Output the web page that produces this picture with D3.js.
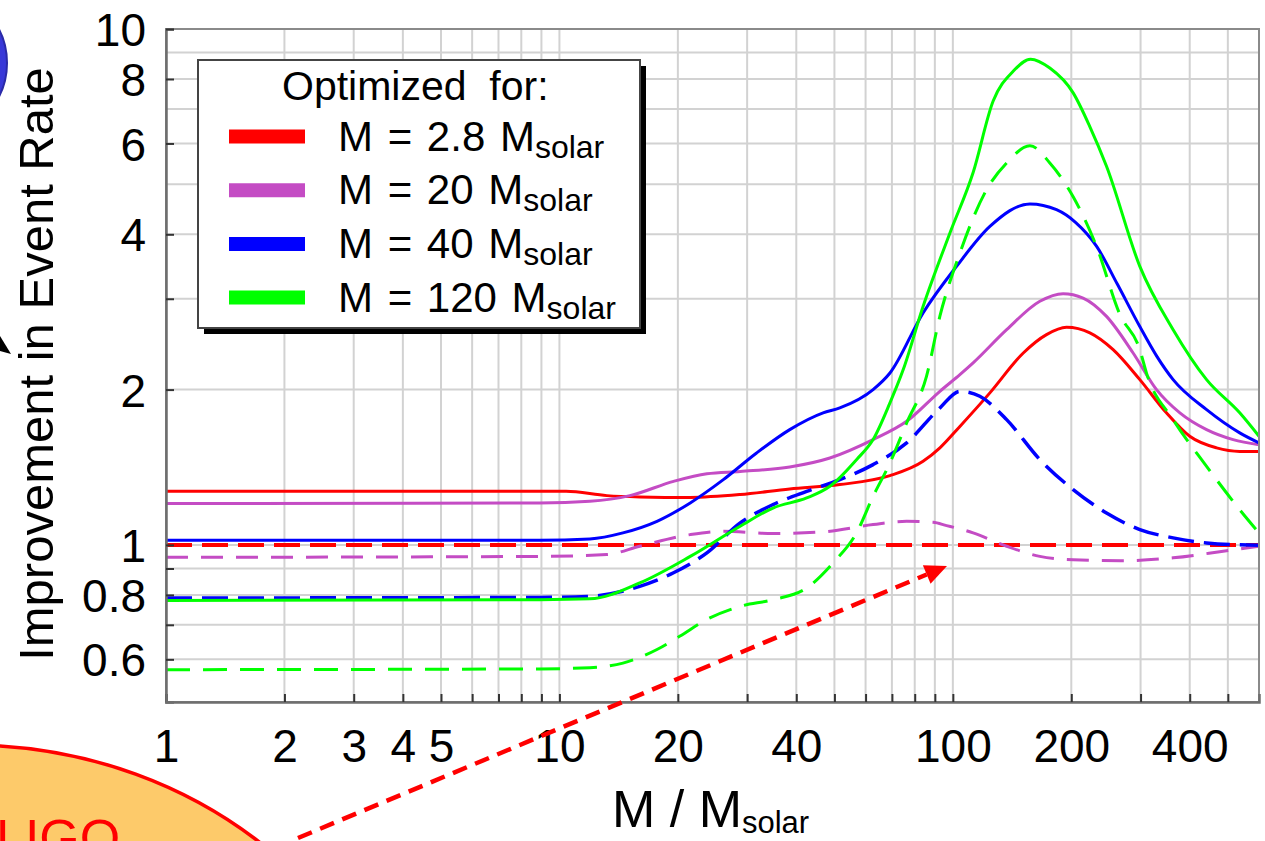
<!DOCTYPE html>
<html>
<head>
<meta charset="utf-8">
<script src="https://cdn.jsdelivr.net/npm/d3@7"></script>
<style>
  body { margin: 0; background: #ffffff; }
  svg { display: block; font-family: Arial, "Liberation Sans", Helvetica, sans-serif; }
</style>
</head>
<body>
<svg id="chart" width="1265" height="841"></svg>
<script>
// ---- Axis ticks and labels ----
const massLabelTicks = [1, 2, 3, 4, 5, 10, 20, 40, 100, 200, 400];
const massGridValues = [1, 2, 3, 4, 5, 6, 7, 8, 9, 10, 20, 30, 40, 50, 60, 70, 80, 90, 100, 200, 300, 400, 500];
const rateLabelTicks = [0.6, 0.8, 1, 2, 4, 6, 8, 10];
const rateMarkTicks = [0.6, 0.7, 0.8, 0.9, 1, 2, 3, 4, 6, 8, 10];
const rateGridValues = [0.6, 0.7, 0.8, 0.9, 1, 2, 3, 4, 5, 6, 7, 8, 9, 10];

// ---- Legend ----
const legendTitle = "Optimized  for:";
const optimizedMasses = ["2.8", "20", "40", "120"];
const seriesColors = ["#ff0000", "#c44cc4", "#0000ff", "#00ff00"];

// ---- Improvement curves: [M / Msolar, improvement factor] ----
const opt28Solid = [[1,1.27],[8.9,1.27],[10.4,1.27],[13.2,1.246],[16,1.239],[21.5,1.236],[28.8,1.252],[38.5,1.284],[51.6,1.309],[69.2,1.362],[84,1.452],[92.7,1.542],[104.2,1.697],[124.2,1.971],[151,2.355],[173,2.556],[194.5,2.641],[223,2.576],[255.5,2.39],[298.7,2.091],[349,1.803],[400,1.624],[468,1.542],[536,1.518],[600,1.518]];
const opt28Dashed = [[1,1.0],[600,1.0]];

const opt20Solid = [[1,1.203],[8.9,1.206],[11.95,1.215],[15.1,1.246],[19.5,1.328],[23.7,1.374],[28.8,1.388],[38.5,1.416],[48.7,1.474],[62.7,1.6],[76.3,1.736],[92.7,1.985],[104.2,2.138],[112.6,2.253],[137,2.613],[166.4,2.966],[190.6,3.069],[214.3,3.01],[245.8,2.773],[287.2,2.355],[329.4,2.0],[377.6,1.803],[441.5,1.673],[515.7,1.6],[600,1.564]];
const opt20Dashed = [[1,0.946],[8.9,0.95],[13.2,0.958],[16,0.994],[21.5,1.047],[26.1,1.063],[34.9,1.052],[46.8,1.06],[62.7,1.095],[76.3,1.111],[89.1,1.106],[96.4,1.09],[104.2,1.074],[112.6,1.055],[137,0.994],[166.4,0.95],[202.2,0.936],[270.8,0.932],[363,0.944],[486.4,0.972],[600,0.994]];

const opt40Solid = [[1,1.021],[8.9,1.021],[11.95,1.027],[14.5,1.055],[17.7,1.111],[21.5,1.206],[26.1,1.338],[31.7,1.507],[38.5,1.673],[46.8,1.803],[51.6,1.843],[62.7,2.0],[69.2,2.154],[84,2.816],[102.2,3.467],[124.2,4.143],[157,4.58],[183.4,4.465],[205,4.22],[232,3.79],[262,3.2],[298.7,2.65],[330,2.32],[363,2.091],[441.5,1.829],[536,1.649],[600,1.577]];
const opt40Dashed = [[1,0.789],[8.9,0.791],[11.95,0.795],[16,0.831],[19.5,0.883],[23.7,0.965],[28.8,1.103],[34.9,1.197],[42.5,1.27],[51.6,1.338],[62.7,1.431],[76.3,1.577],[92.7,1.843],[104.2,1.985],[117.1,1.941],[137,1.749],[166.4,1.463],[202.2,1.28],[245.8,1.153],[298.7,1.071],[363,1.032],[441.5,1.009],[600,0.998]];

const opt120Solid = [[1,0.78],[8.9,0.783],[11.95,0.786],[16,0.844],[21.5,0.95],[28.8,1.087],[34.9,1.179],[42.5,1.233],[48.7,1.299],[56.9,1.463],[62.7,1.6],[69.2,1.885],[74.8,2.187],[84,2.898],[98.3,4.024],[112.6,5.27],[126.6,7.25],[142.3,8.28],[157.6,8.74],[176.4,8.4],[202.2,7.52],[222.9,6.47],[245.8,5.42],[298.7,3.467],[363,2.613],[441.5,2.091],[536,1.803],[600,1.624]];
const opt120Dashed = [[1,0.573],[8.9,0.575],[11.95,0.578],[14.5,0.59],[17.7,0.627],[20.2,0.665],[23.7,0.717],[28.8,0.76],[34.9,0.783],[42.5,0.825],[49.6,0.923],[56.9,1.055],[62.7,1.242],[69.2,1.442],[76.3,1.723],[85.7,2.122],[92.7,2.775],[104.2,3.68],[121.8,4.88],[137,5.5],[157,5.94],[176.4,5.5],[202.2,4.73],[231.8,3.79],[265.6,2.8],[298.7,2.39],[310.6,2.153],[363,1.749],[441.5,1.42],[536,1.17],[600,1.055]];

const curves = [
  { data: opt28Solid,   color: 0, dash: null,    width: 3 },
  { data: opt28Dashed,  color: 0, dash: "26,10", width: 4 },
  { data: opt20Solid,   color: 1, dash: null,    width: 3 },
  { data: opt20Dashed,  color: 1, dash: "22,13", width: 3 },
  { data: opt40Solid,   color: 2, dash: null,    width: 3 },
  { data: opt40Dashed,  color: 2, dash: "26,10", width: 3.5 },
  { data: opt120Solid,  color: 3, dash: null,    width: 3 },
  { data: opt120Dashed, color: 3, dash: "24,13", width: 3 }
];

// ---- Layout ----
const svg = d3.select("#chart");
const plot = { left: 166, right: 1259, top: 29, bottom: 702 };

const x = d3.scaleLog().domain([1, 600]).range([plot.left, plot.right]);
const y = d3.scaleLog().domain([0.496, 10]).range([plot.bottom, plot.top]);

// ---- Slide decorations behind the chart ----
svg.append("ellipse")
  .attr("cx", -30).attr("cy", 1160).attr("rx", 450).attr("ry", 415)
  .attr("fill", "#fdca6a").attr("stroke", "#ff0000").attr("stroke-width", 3.5);
svg.append("text")
  .attr("x", -4).attr("y", 856)
  .attr("font-size", 52).attr("fill", "#ff0000")
  .text("LIGO");
svg.append("circle")
  .attr("cx", -66).attr("cy", 63).attr("r", 73)
  .attr("fill", "#3838d8").attr("stroke", "#2a2aa8").attr("stroke-width", 2);
svg.append("path")
  .attr("d", "M0,336 L11,354 L0,351 Z")
  .attr("fill", "#000");

// ---- Plot background and grid ----
svg.append("rect")
  .attr("x", plot.left).attr("y", plot.top)
  .attr("width", plot.right - plot.left).attr("height", plot.bottom - plot.top)
  .attr("fill", "#ffffff");

const grid = svg.append("g").attr("stroke", "#d2d2d2").attr("stroke-width", 2);
grid.selectAll("line.v").data(massGridValues).join("line")
  .attr("class", "v")
  .attr("x1", d => x(d)).attr("x2", d => x(d))
  .attr("y1", plot.top).attr("y2", plot.bottom);
grid.selectAll("line.h").data(rateGridValues).join("line")
  .attr("class", "h")
  .attr("x1", plot.left).attr("x2", plot.right)
  .attr("y1", d => y(d)).attr("y2", d => y(d));

// ---- Curves ----
svg.append("defs").append("clipPath").attr("id", "plotClip")
  .append("rect")
  .attr("x", plot.left).attr("y", plot.top)
  .attr("width", plot.right - plot.left).attr("height", plot.bottom - plot.top);

const line = d3.line()
  .x(d => x(d[0]))
  .y(d => y(d[1]))
  .curve(d3.curveMonotoneX);

svg.append("g").attr("clip-path", "url(#plotClip)")
  .selectAll("path").data(curves).join("path")
  .attr("d", c => line(c.data))
  .attr("fill", "none")
  .attr("stroke", c => seriesColors[c.color])
  .attr("stroke-width", c => c.width)
  .attr("stroke-dasharray", c => c.dash)
  .attr("stroke-linejoin", "round");

// ---- Frame and axes ----
svg.append("rect")
  .attr("x", plot.left).attr("y", plot.top)
  .attr("width", plot.right - plot.left).attr("height", plot.bottom - plot.top)
  .attr("fill", "none").attr("stroke", "#8a8a8a").attr("stroke-width", 2);

const xAxis = d3.axisBottom(x)
  .tickValues(massGridValues)
  .tickSize(-8)
  .tickFormat(d => massLabelTicks.includes(d) ? String(d) : "");
const gx = svg.append("g").attr("transform", `translate(0,${plot.bottom})`).call(xAxis);
gx.select(".domain").attr("stroke", "#6e6e6e").attr("stroke-width", 2.5);
gx.selectAll(".tick line").attr("stroke", "#333").attr("stroke-width", 2);
gx.selectAll(".tick text")
  .attr("font-size", 46).attr("fill", "#000")
  .attr("font-family", "Arial, 'Liberation Sans', sans-serif")
  .attr("y", 0).attr("dy", 0)
  .attr("transform", "translate(0,60)");

const yAxis = d3.axisLeft(y)
  .tickValues(rateMarkTicks)
  .tickSize(-8)
  .tickFormat(d => rateLabelTicks.includes(d) ? String(d) : "");
const gy = svg.append("g").attr("transform", `translate(${plot.left},0)`).call(yAxis);
gy.select(".domain").attr("stroke", "#6e6e6e").attr("stroke-width", 2.5);
gy.selectAll(".tick line").attr("stroke", "#333").attr("stroke-width", 2);
gy.selectAll(".tick text")
  .attr("font-size", 46).attr("fill", "#000")
  .attr("font-family", "Arial, 'Liberation Sans', sans-serif")
  .attr("x", -20).attr("dy", "0.36em");

// ---- Axis titles ----
const xTitle = svg.append("text")
  .attr("x", 612).attr("y", 827)
  .attr("font-size", 52).attr("fill", "#000");
xTitle.append("tspan").text("M / M");
xTitle.append("tspan").attr("font-size", 31).attr("dy", 6).text("solar");

svg.append("text")
  .attr("transform", "translate(53,364) rotate(-90)")
  .attr("text-anchor", "middle")
  .attr("font-size", 49).attr("fill", "#000")
  .text("Improvement in Event Rate");

// ---- Legend ----
const legend = { x: 198, y: 60, w: 442, h: 268 };
svg.append("rect")
  .attr("x", legend.x + 6).attr("y", legend.y + 6)
  .attr("width", legend.w).attr("height", legend.h)
  .attr("fill", "#000");
svg.append("rect")
  .attr("x", legend.x).attr("y", legend.y)
  .attr("width", legend.w).attr("height", legend.h)
  .attr("fill", "#fff").attr("stroke", "#444").attr("stroke-width", 2);
svg.append("text")
  .attr("x", 282).attr("y", 100)
  .attr("font-size", 41).attr("fill", "#000")
  .attr("xml:space", "preserve")
  .style("white-space", "pre")
  .text(legendTitle);

const rows = svg.append("g").selectAll("g").data(optimizedMasses).join("g")
  .attr("transform", (d, i) => `translate(0,${150.5 + i * 53.7})`);
rows.append("line")
  .attr("x1", 229).attr("x2", 305)
  .attr("y1", -14).attr("y2", -14)
  .attr("stroke", (d, i) => seriesColors[i])
  .attr("stroke-width", 14);
const rowText = rows.append("text")
  .attr("x", 338).attr("y", 0)
  .attr("font-size", 42).attr("fill", "#000")
  .attr("word-spacing", 3);
rowText.append("tspan").text(d => `M = ${d} M`);
rowText.append("tspan").attr("font-size", 32).attr("dy", 7).text("solar");

// ---- Red dashed pointer arrow ----
const arrowStart = [298, 838], arrowTip = [947, 566];
const dx = arrowTip[0] - arrowStart[0], dy = arrowTip[1] - arrowStart[1];
const len = Math.hypot(dx, dy), ux = dx / len, uy = dy / len;
const headLen = 22, headHalf = 10;
const baseX = arrowTip[0] - ux * headLen, baseY = arrowTip[1] - uy * headLen;
svg.append("line")
  .attr("x1", arrowStart[0]).attr("y1", arrowStart[1])
  .attr("x2", baseX).attr("y2", baseY)
  .attr("stroke", "#ff0000").attr("stroke-width", 4.5)
  .attr("stroke-dasharray", "15,9");
svg.append("path")
  .attr("d", `M${arrowTip[0]},${arrowTip[1]} L${baseX - uy * headHalf},${baseY + ux * headHalf} L${baseX + uy * headHalf},${baseY - ux * headHalf} Z`)
  .attr("fill", "#ff0000");
</script>
</body>
</html>
